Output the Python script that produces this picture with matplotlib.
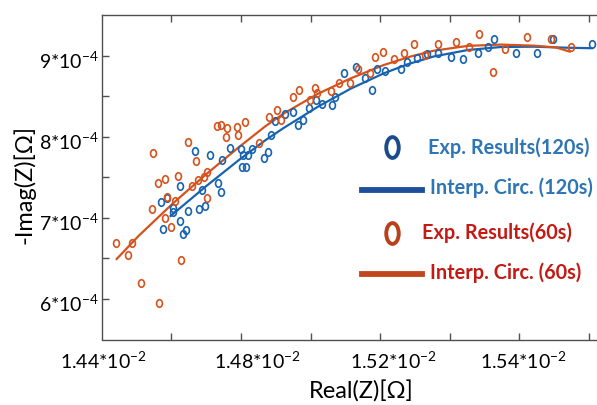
import matplotlib
matplotlib.use("Agg")
import matplotlib.pyplot as plt
from matplotlib.lines import Line2D
from matplotlib.markers import MarkerStyle
from matplotlib.transforms import Affine2D, ScaledTranslation

# Real(Z) in units of 1e-2 ohm, -Imag(Z) in units of 1e-4 ohm
exp120_x = [1.4569, 1.4577, 1.4589, 1.4605, 1.4606, 1.4624, 1.4625, 1.4633, 1.4641, 1.4648,
            1.4669, 1.4681, 1.4689, 1.4696, 1.4710, 1.4733, 1.4742, 1.4745, 1.4769, 1.4799,
            1.4803, 1.4806, 1.4815, 1.4820, 1.4831, 1.4866, 1.4878, 1.4886, 1.4897, 1.4926,
            1.4951, 1.4965, 1.4978, 1.4996, 1.5017, 1.5033, 1.5061, 1.5070, 1.5096, 1.5130,
            1.5156, 1.5177, 1.5191, 1.5213, 1.5259, 1.5278, 1.5305, 1.5336, 1.5366, 1.5403,
            1.5438, 1.5481, 1.5511, 1.5526, 1.5591, 1.5650, 1.5697, 1.5808]
exp120_y = [7.194, 6.864, 7.249, 7.121, 7.074, 7.398, 6.963, 6.806, 6.852, 7.090,
            7.821, 7.115, 7.346, 7.148, 7.778, 7.438, 7.321, 7.721, 7.870, 7.852,
            7.633, 7.781, 7.630, 7.780, 7.846, 7.737, 7.817, 8.022, 8.194, 8.278,
            8.312, 8.142, 8.206, 8.356, 8.451, 8.407, 8.391, 8.498, 8.786, 8.868,
            8.728, 8.585, 8.836, 8.812, 8.837, 8.930, 8.979, 9.025, 9.041, 8.984,
            8.967, 9.033, 9.115, 9.206, 9.033, 9.033, 9.210, 9.144]

exp60_x = [1.4442, 1.4475, 1.4487, 1.4514, 1.4544, 1.4547, 1.4562, 1.4564, 1.4582, 1.4582,
           1.4589, 1.4599, 1.4611, 1.4619, 1.4629, 1.4648, 1.4660, 1.4671, 1.4678, 1.4695,
           1.4704, 1.4702, 1.4730, 1.4743, 1.4761, 1.4756, 1.4790, 1.4791, 1.4812, 1.4852,
           1.4880, 1.4905, 1.4916, 1.4951, 1.4967, 1.4998, 1.5013, 1.5018, 1.5060, 1.5082,
           1.5114, 1.5137, 1.5172, 1.5184, 1.5208, 1.5240, 1.5270, 1.5297, 1.5328, 1.5365,
           1.5419, 1.5456, 1.5483, 1.5523, 1.5558, 1.5623, 1.5690, 1.5748]
exp60_y = [6.695, 6.546, 6.691, 6.198, 7.107, 7.805, 7.428, 5.951, 7.481, 6.994,
           7.259, 6.893, 7.207, 7.521, 6.486, 7.935, 7.400, 7.698, 7.463, 7.510,
           7.573, 7.247, 8.132, 8.151, 8.116, 7.996, 8.123, 8.022, 8.181, 7.932,
           8.243, 8.333, 8.215, 8.490, 8.578, 8.462, 8.599, 8.540, 8.568, 8.670,
           8.667, 8.837, 8.796, 8.988, 9.052, 8.959, 9.043, 9.148, 9.012, 9.148,
           9.169, 9.115, 9.272, 8.806, 9.083, 9.238, 9.210, 9.115]

fit120_x = [1.4598, 1.4699, 1.4794, 1.4871, 1.4923, 1.5021, 1.5116, 1.5210,
            1.5279, 1.5354, 1.5452, 1.5547, 1.5641, 1.5739, 1.5808]
fit120_y = [7.025, 7.389, 7.715, 7.962, 8.112, 8.373, 8.598, 8.785,
            8.898, 8.994, 9.074, 9.111, 9.115, 9.102, 9.096]

fit60_x = [1.4443, 1.4506, 1.4604, 1.4699, 1.4794, 1.4871, 1.4923, 1.5021, 1.5116,
           1.5210, 1.5288, 1.5354, 1.5452, 1.5547, 1.5641, 1.5705, 1.5745]
fit60_y = [6.494, 6.779, 7.178, 7.536, 7.874, 8.135, 8.290, 8.533, 8.725,
           8.888, 8.994, 9.065, 9.125, 9.141, 9.128, 9.106, 9.054]

xlabel_vals = ["1.44", "1.48", "1.52", "1.54"]
xlabel_pos = [1.4406, 1.4847, 1.5238, 1.5613]
ylabel_vals = [6, 7, 8, 9]
legend_labels = ["Exp. Results(120s)", "Interp. Circ. (120s)",
                 "Exp. Results(60s)", "Interp. Circ. (60s)"]

plt.rcParams["font.family"] = ["Lato", "DejaVu Sans"]
plt.rcParams["mathtext.fontset"] = "custom"
plt.rcParams["mathtext.rm"] = "Lato"
plt.rcParams["mathtext.it"] = "Lato:italic"
plt.rcParams["mathtext.bf"] = "Lato:bold"

W, H = 597, 405
fig = plt.figure(figsize=(W / 100, H / 100), dpi=100)
ax = fig.add_axes([101.7 / W, 1 - 339.5 / H, 1 - 101.7 / W, 324 / H])

blue = "#1763b0"
red = "#d6521d"
oval = MarkerStyle("o", transform=Affine2D().scale(0.78, 1.0))

ax.plot(fit120_x, fit120_y, color=blue, lw=1.6)
ax.plot(fit60_x, fit60_y, color=red, lw=1.6)
ax.plot(exp120_x, exp120_y, ls="none", marker=oval, ms=5.4, mfc="none", mec=blue, mew=1.2)
ax.plot(exp60_x, exp60_y, ls="none", marker=oval, ms=5.4, mfc="none", mec=red, mew=1.2)

ax.set_xlim(1.44, 1.44 + 495.3 / 3480)
ax.set_ylim(5.5, 9.5)

for s in ["left", "bottom", "top"]:
    ax.spines[s].set_color("#505050")
    ax.spines[s].set_linewidth(1.0)
ax.spines["right"].set_visible(False)

ax.set_xticks(xlabel_pos, [v + r"*10$^{-2}$" for v in xlabel_vals])
ax.set_xticks([1.46 + 0.02 * k for k in range(7)], minor=True)
ax.set_yticks(ylabel_vals, [f"{v}" + r"*10$^{-4}$" for v in ylabel_vals])
ax.set_yticks([6.5, 7.5, 8.5], minor=True)

ax.tick_params(axis="x", which="major", length=0, pad=8, labelsize=14)
ax.tick_params(axis="x", which="minor", direction="in", length=5, width=1,
               color="#505050", top=True)
ax.tick_params(axis="y", which="both", direction="in", length=5, width=1,
               color="#505050", pad=2, labelsize=14)

shift = ScaledTranslation(0, -4 / 100, fig.dpi_scale_trans)
for lab in ax.get_yticklabels():
    lab.set_transform(lab.get_transform() + shift)

fig.text(361.7 / W, 1 - 399 / H, "Real(Z)[Ω]", ha="center", va="baseline", fontsize=17)
fig.text(24 / W, 1 - 184 / H, "-Imag(Z)[Ω]", ha="center", va="center",
         rotation=90, fontsize=17)

# hand-made legend
big_oval = MarkerStyle("o", transform=Affine2D().scale(0.6, 1.0))
fig.add_artist(Line2D([392 / W], [1 - 147 / H], marker=big_oval, ms=15, mfc="none",
                      mec="#1a4c8c", mew=2.8, transform=fig.transFigure))
fig.add_artist(Line2D([362 / W, 422 / W], [1 - 190 / H] * 2, color="#1f4f9a", lw=4.2,
                      transform=fig.transFigure))
fig.add_artist(Line2D([392 / W], [1 - 233 / H], marker=big_oval, ms=15, mfc="none",
                      mec="#b8401a", mew=2.8, transform=fig.transFigure))
fig.add_artist(Line2D([362 / W, 422 / W], [1 - 274 / H] * 2, color="#c0461c", lw=4.2,
                      transform=fig.transFigure))

tc = ["#2e75b6", "#2e75b6", "#c41a14", "#c41a14"]
tx = [428, 430, 422, 430]
ty = [148, 188, 233, 273]
for lab, c, x, y in zip(legend_labels, tc, tx, ty):
    fig.text(x / W, 1 - y / H, lab, color=c, fontsize=14.3, fontweight="bold",
             ha="left", va="center")

fig.savefig("out.png", dpi=100)
